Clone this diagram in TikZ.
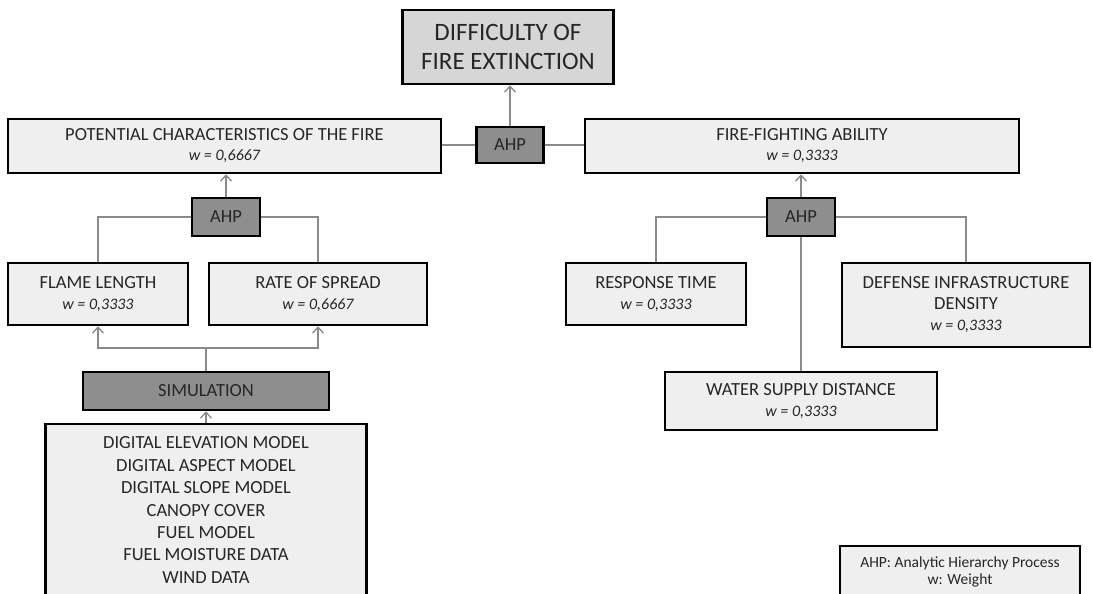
\documentclass[tikz,border=0pt]{standalone}
\usepackage{fontspec}
\setmainfont{Carlito}
\usetikzlibrary{arrows.meta}
\definecolor{txt}{HTML}{262626}
\definecolor{lightfill}{HTML}{EFEFEF}
\definecolor{topfill}{HTML}{D6D6D6}
\definecolor{darkfill}{HTML}{8E8E8E}
\definecolor{conn}{HTML}{8A8A8A}
\tikzset{
  box/.style={draw=black, line width=2.5pt, fill=lightfill, text=txt, align=center, inner sep=0pt,
    font=\fontsize{18.5}{21}\selectfont},
  topbox/.style={box, fill=topfill, font=\fontsize{25}{29}\selectfont},
  darkbox/.style={box, fill=darkfill},
  link/.style={draw=conn, line width=1.5pt},
  arr/.style={link, -{Straight Barb[length=6pt,width=11pt,line width=1.3pt]}},
}
\newcommand{\wt}[1]{{\fontsize{16}{19}\selectfont\itshape w = #1}}
\begin{document}
\begin{tikzpicture}[x=1pt,y=-1pt]
\useasboundingbox (0,0) rectangle (1093,594);
\clip (0,0) rectangle (1093,594);

% top
\node[topbox, minimum width=211pt, minimum height=74pt] (top) at (508,47) {DIFFICULTY OF\\FIRE EXTINCTION};
\node[darkbox, minimum width=67pt, minimum height=36pt] (ahp1) at (510,145) {AHP};
\node[box, minimum width=433pt, minimum height=54pt] (pot) at (224.5,146) {POTENTIAL CHARACTERISTICS OF THE FIRE\\[-1pt]\wt{0,6667}};
\node[box, minimum width=434pt, minimum height=54pt] (ff) at (802,146) {FIRE-FIGHTING ABILITY\\[-1pt]\wt{0,3333}};

% left subtree
\node[darkbox, minimum width=68pt, minimum height=38pt] (ahp2) at (226,217) {AHP};
\node[box, minimum width=180pt, minimum height=62pt] (flame) at (98,294) {FLAME LENGTH\\\wt{0,3333}};
\node[box, minimum width=218pt, minimum height=62pt] (rate) at (318,294) {RATE OF SPREAD\\\wt{0,6667}};
\node[darkbox, minimum width=246pt, minimum height=38pt] (sim) at (206,391) {SIMULATION};
\node[box, minimum width=321pt, minimum height=172pt, font=\fontsize{18.5}{22.4}\selectfont] (data) at (206,510)
  {DIGITAL ELEVATION MODEL\\DIGITAL ASPECT MODEL\\DIGITAL SLOPE MODEL\\CANOPY COVER\\FUEL MODEL\\FUEL MOISTURE DATA\\WIND DATA};
\coordinate (j) at (206,348);

% right subtree
\node[darkbox, minimum width=68pt, minimum height=38pt] (ahp3) at (801,217) {AHP};
\node[box, minimum width=180pt, minimum height=62pt] (resp) at (656,294) {RESPONSE TIME\\\wt{0,3333}};
\node[box, minimum width=248pt, minimum height=84pt] (def) at (966,305) {DEFENSE INFRASTRUCTURE\\DENSITY\\\wt{0,3333}};
\node[box, minimum width=272pt, minimum height=58pt] (water) at (801,401) {WATER SUPPLY DISTANCE\\\wt{0,3333}};

% legend
\node[box, minimum width=240pt, minimum height=52pt, font=\fontsize{15.5}{17}\selectfont] (leg) at (960,572) {AHP: Analytic Hierarchy Process\\w: Weight};

% connectors
\draw[arr] (ahp1.north) -- (ahp1.north |- top.south);
\draw[link] (pot.east |- ahp1.west) -- (ahp1.west);
\draw[link] (ahp1.east) -- (ff.west |- ahp1.east);
\draw[arr] (ahp2.north) -- (ahp2.north |- pot.south);
\draw[link] (ahp2.west) -| (flame.north);
\draw[link] (ahp2.east) -| (rate.north);
\draw[link] (sim.north) -- (j);
\draw[arr] (j) -| (flame.south);
\draw[arr] (j) -| (rate.south);
\draw[arr] (data.north) -- (sim.south);
\draw[arr] (ahp3.north) -- (ahp3.north |- ff.south);
\draw[link] (ahp3.west) -| (resp.north);
\draw[link] (ahp3.east) -| (def.north);
\draw[link] (ahp3.south) -- (water.north);
\end{tikzpicture}
\end{document}
